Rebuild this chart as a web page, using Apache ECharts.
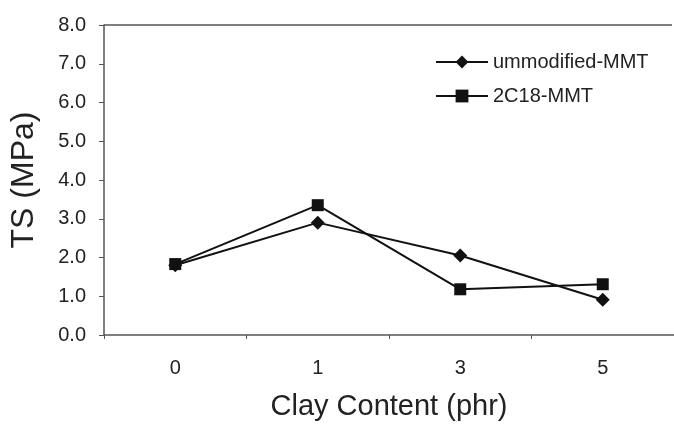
<!DOCTYPE html>
<html>
<head>
<meta charset="utf-8">
<script src="https://cdn.jsdelivr.net/npm/echarts@6/dist/echarts.min.js"></script>
<style>html,body{margin:0;padding:0;background:#fff}#c{width:674px;height:426px}</style>
</head>
<body>
<div id="c"></div>
<script>
var categories = ['0', '1', '3', '5'];
var unmodified = [1.8, 2.9, 2.05, 0.91];
var c2c18 = [1.83, 3.35, 1.18, 1.31];
var yTicks = [0, 1, 2, 3, 4, 5, 6, 7, 8];

var chart = echarts.init(document.getElementById('c'));
var font = 'Liberation Sans, Arial, sans-serif';
chart.setOption({
  backgroundColor: '#fff',
  animation: false,
  grid: { left: 104, width: 580, top: 25, height: 317 },
  legend: {
    left: 430, top: 47, orient: 'vertical', itemGap: 14,
    itemWidth: 52, itemHeight: 16,
    textStyle: { fontFamily: font, fontSize: 20, color: '#222' },
    data: ['ummodified-MMT', '2C18-MMT']
  },
  xAxis: {
    type: 'category', data: categories, boundaryGap: true,
    name: 'Clay Content (phr)', nameLocation: 'middle', nameGap: 57,
    nameTextStyle: { fontFamily: font, fontSize: 29, color: '#222' },
    axisLine: { lineStyle: { color: '#555', width: 1.5 } },
    axisTick: { show: true, length: 4, lineStyle: { color: '#555' } },
    axisLabel: { fontFamily: font, fontSize: 20, color: '#222', margin: 23 },
    splitLine: { show: false }
  },
  yAxis: {
    type: 'value', min: yTicks[0], max: yTicks[yTicks.length - 1], interval: 1,
    name: 'TS (MPa)', nameLocation: 'middle', nameGap: 64,
    nameTextStyle: { fontFamily: font, fontSize: 32, color: '#222' },
    axisLine: { show: true, lineStyle: { color: '#555', width: 1.5 } },
    axisTick: { show: true, length: 5, lineStyle: { color: '#555' } },
    axisLabel: { fontFamily: font, fontSize: 20, color: '#222', margin: 18,
      formatter: function (v) { return v.toFixed(1); } },
    splitLine: { show: false }
  },
  graphic: [
    { type: 'line', shape: { x1: 104, y1: 25, x2: 672, y2: 25 }, style: { stroke: '#555', lineWidth: 1.5 } }
  ],
  series: [
    {
      name: 'ummodified-MMT', type: 'line', data: unmodified,
      symbol: 'diamond', symbolSize: 14,
      lineStyle: { color: '#111', width: 2 },
      itemStyle: { color: '#111' }
    },
    {
      name: '2C18-MMT', type: 'line', data: c2c18,
      symbol: 'rect', symbolSize: 12,
      lineStyle: { color: '#111', width: 2 },
      itemStyle: { color: '#111' }
    }
  ]
});
</script>
</body>
</html>
